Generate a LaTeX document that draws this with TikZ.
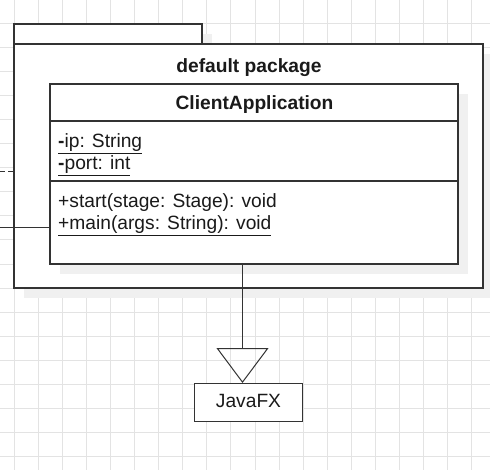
\documentclass[tikz,border=0pt]{standalone}
\usepackage{fontspec}
\setmainfont{Liberation Sans}
\usepackage{tikz}
\usetikzlibrary{arrows.meta}
\usetikzlibrary{calc, backgrounds}

\definecolor{umlline}{HTML}{333333}
\definecolor{umltext}{HTML}{1A1A1A}
\definecolor{gridgray}{HTML}{E3E3E3}
\definecolor{shadowgray}{HTML}{F0F0F0}

\tikzset{
  gridline/.style={gridgray, line width=1pt},
  umlbox/.style={draw=umlline, line width=1.2pt, fill=white, inner sep=0pt},
  umlshadow/.style={fill=shadowgray, draw=none},
  umlfont/.style={text=umltext, font=\fontsize{19.2}{22}\selectfont, inner sep=0pt},
  member/.style={umlfont, anchor=base west},
  extends/.style={umlline, line width=1pt, -{Triangle[open, length=35pt, width=52pt]}},
}

\begin{document}
\begin{tikzpicture}[x=1pt, y=-1pt]
          \useasboundingbox (0,0) rectangle (490,470);
          \fill [white] (0,0) rectangle (490,470);

          % background grid
          \foreach \gx in {0,...,19}
            \draw [gridline] (14.3+24.07*\gx,0) -- ++(0,470);
          \foreach \gy in {1,...,19}
            \draw [gridline] (0,24.07*\gy-0.7) -- ++(490,0);

          % package with its tab
          \fill [umlshadow] (24,34) rectangle (212,54); % Draws a shadow
          \fill [umlshadow] (24,54) rectangle (493,298); % Draws a shadow
          \node [umlbox, minimum width=188pt, minimum height=20pt] (tab) at (108,34) {};
          \node [umlbox, minimum width=469pt, minimum height=244pt] (package) at (248.5,166) {};
          \node [umlfont, font=\fontsize{19.2}{22}\selectfont\bfseries, anchor=base] (pkgname) at (249,72.7) {default package};

          % class box
          \fill [umlshadow] (60,94) rectangle (468,274); % Draws a shadow
          \node [umlbox, minimum width=408pt, minimum height=180pt] (client) at (254,174) {};
          \draw [umlline, line width=1.2pt] (client.west |- 0,121) -- (client.east |- 0,121);
          \draw [umlline, line width=1.2pt] (client.west |- 0,181) -- (client.east |- 0,181);
          \node [umlfont, font=\fontsize{19.2}{22}\selectfont\bfseries, anchor=base] (clientname) at (254.5,110) {ClientApplication};

          \node [member] (ip) at (58,147.5) {\underline{\textbf{-}ip: String}};
          \node [member] (port) at (58,170) {\underline{\textbf{-}port: int}};
          \node [member] (start) at (58,207.5) {+start(stage: Stage): void};
          \node [member] (main) at (58,229.5) {\underline{+main(args: String): void}};

          % JavaFX
          \node [umlbox, line width=1pt, minimum width=108pt, minimum height=38pt] (javafx) at (248.5,402.5) {};
          \node [umlfont, anchor=base] (javafxname) at (248.5,407.3) {JavaFX};

          % connectors
          \coordinate (drop) at (242.5,0);
          \coordinate (dashend) at (0,172);
          \coordinate (lineend) at (0,228);
          \draw [extends] (client.south -| drop) -- (javafx.north -| drop);
          \draw [umlline, line width=1pt, dash pattern=on 5pt off 3pt] (dashend) -- (dashend -| package.west);
          \draw [umlline, line width=1pt] (lineend) -- (lineend -| client.west);
        \end{tikzpicture}
\end{document}
